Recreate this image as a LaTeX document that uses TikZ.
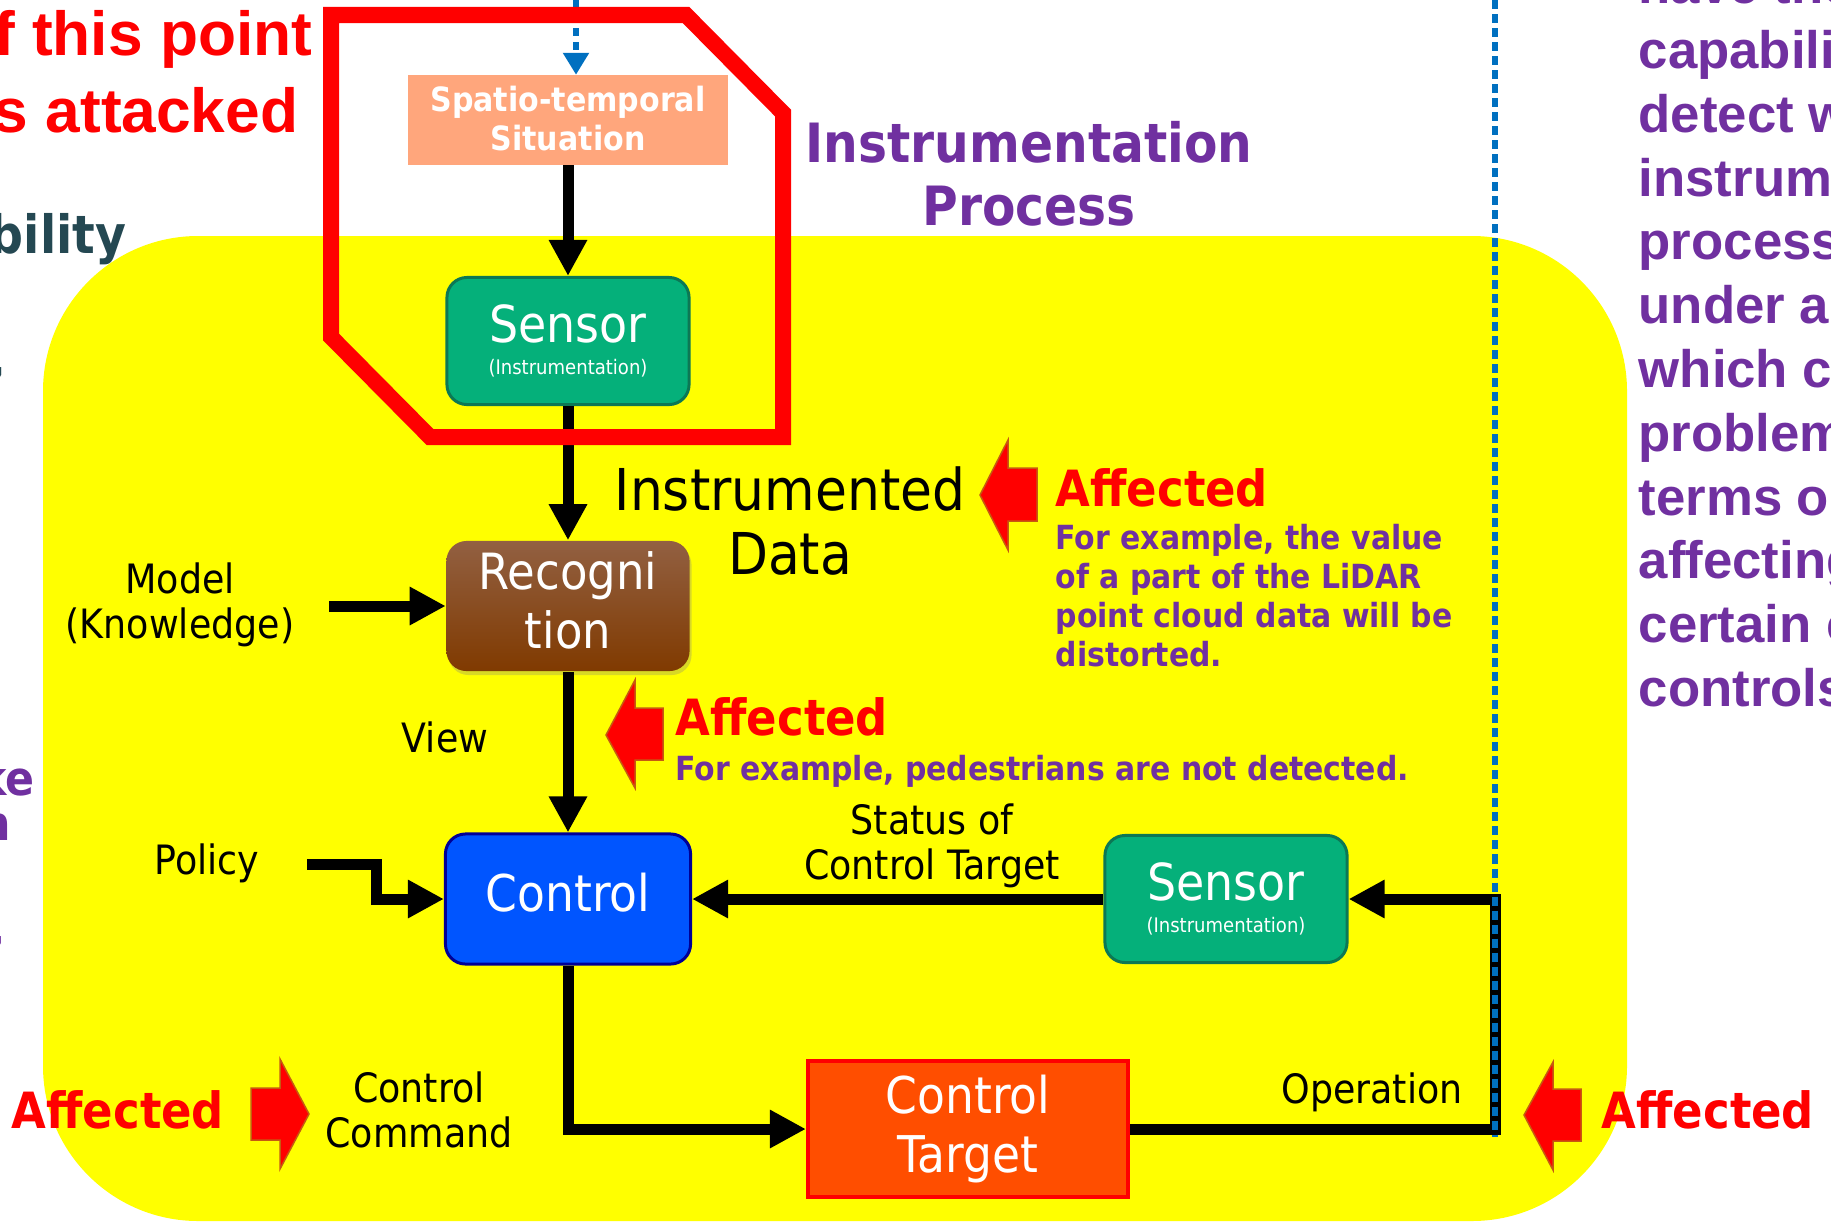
\documentclass[tikz,border=0pt]{standalone}
\usepackage{fontspec}
\setmainfont{DejaVu Sans}[FakeStretch=0.9]
\newfontfamily\arialfont{Liberation Sans}
\usetikzlibrary{arrows.meta,shadows}

\definecolor{hlyellow}{RGB}{255,255,0}
\definecolor{sensorgreen}{RGB}{5,176,122}
\definecolor{sensordark}{RGB}{12,120,85}
\definecolor{ctrlblue}{RGB}{0,85,255}
\definecolor{ctrldark}{RGB}{0,0,150}
\definecolor{targetorange}{RGB}{255,78,0}
\definecolor{situsalmon}{RGB}{255,166,124}
\definecolor{recogtop}{RGB}{146,96,66}
\definecolor{recogbot}{RGB}{128,58,0}
\definecolor{notepurple}{RGB}{112,48,160}
\definecolor{lineblue}{RGB}{0,112,192}
\definecolor{arrowrim}{RGB}{197,90,17}
\definecolor{slate}{RGB}{36,72,82}

\begin{document}
\begin{tikzpicture}[x=0.01cm,y=-0.01cm,
  conn/.style={line width=0.11cm,-{Triangle[length=0.36cm,width=0.36cm]}},
  divider/.style={lineblue,line width=0.065cm,dash pattern=on 0.09cm off 0.05cm},
  feedarrow/.style={lineblue,line width=0.06cm,dash pattern=on 0.08cm off 0.06cm,-{Triangle[length=0.22cm,width=0.25cm]}},
  sensorbox/.style={draw=sensordark,line width=0.03cm,fill=sensorgreen,rounded corners=0.2cm,
    minimum width=2.42cm,minimum height=1.27cm,align=center,text=white,inner sep=0pt,
    font=\fontsize{14.5}{9}\selectfont},
  situbox/.style={fill=situsalmon,minimum width=3.2cm,minimum height=0.89cm,align=center,
    text=white,inner sep=0pt,text depth=0.04cm,font=\bfseries\fontsize{9.5}{11.1}\selectfont},
  recogbox/.style={top color=recogtop,bottom color=recogbot,rounded corners=0.2cm,
    minimum width=2.43cm,minimum height=1.3cm,align=center,text=white,inner sep=0pt,
    text depth=0.12cm,
    drop shadow={opacity=0.3,shadow xshift=0.02cm,shadow yshift=-0.04cm},
    font=\fontsize{14.2}{16.8}\selectfont},
  ctrlbox/.style={draw=ctrldark,line width=0.03cm,fill=ctrlblue,rounded corners=0.2cm,
    minimum width=2.45cm,minimum height=1.3cm,text=white,inner sep=0pt,text depth=0.14cm,
    font=\fontsize{14.4}{16}\selectfont},
  targetbox/.style={draw=red,line width=0.04cm,fill=targetorange,
    minimum width=3.2cm,minimum height=1.36cm,align=center,text=white,inner sep=0pt,
    font=\fontsize{14.4}{16.5}\selectfont},
  lbl/.style={align=center,inner sep=0pt,font=\fontsize{11.5}{12.8}\selectfont},
  afflabel/.style={anchor=base west,inner sep=0pt,text=red,font=\bfseries\fontsize{14.2}{16}\selectfont},
  exlabel/.style={anchor=base west,align=left,inner sep=0pt,text=notepurple,
    font=\bfseries\fontsize{9.45}{11}\selectfont},
  affarrow/.style={fill=red,draw=arrowrim,line width=0.015cm,line join=miter},
  sidetext/.style={anchor=base west,inner sep=0pt,text=notepurple,
    font=\arialfont\bfseries\fontsize{15}{18}\selectfont}]

\useasboundingbox (0,0) rectangle (1831,1221);
\clip (0,0) rectangle (1831,1221);

% highlighted process area
\fill[hlyellow,rounded corners=1.55cm] (43,236) rectangle (1627,1221);

% blocks
\node[situbox] (situ) at (568,120) {Spatio-temporal\\Situation};
\node[sensorbox] (sensA) at (568,341) {Sensor\\{\fontsize{5.7}{6}\selectfont(Instrumentation)}};
\node[recogbox] (recog) at (568,606) {Recogni\\tion};
\node[ctrlbox] (ctrl) at (568,899) {Control};
\node[sensorbox] (sensB) at (1226,899) {Sensor\\{\fontsize{5.7}{6}\selectfont(Instrumentation)}};
\node[targetbox] (target) at (968,1129) {Control\\Target};

% connectors
\coordinate (feed) at (576,0);
\coordinate (mdl) at (329,606);
\coordinate (pol) at (307,864);
\coordinate (opc) at (1495,1129);
\coordinate (divTop) at (1495,0);
\coordinate (divBot) at (1495,1137);
\draw[conn] (situ.south) -- (sensA.north);
\draw[conn] (sensA.south) -- (recog.north);
\draw[conn] (recog.south) -- (ctrl.north);
\draw[conn] (mdl) -- (recog.west);
\draw[conn] (pol) -- ++(69,0) |- (ctrl.west);
\draw[conn] (ctrl.south) |- (target.west);
\draw[conn] (target.east) -- (opc) |- (sensB.east);
\draw[conn] (sensB.west) -- (ctrl.east);

% boundary lines
\draw[divider] (divTop) -- (divBot);
\draw[feedarrow] (feed) -- (feed |- situ.north);

% attacked point
\draw[red,line width=0.16cm,line join=miter] (331,15) -- (686,15) -- (783,113) -- (783,437)
  -- (430,437) -- (331,337) -- cycle;

% labels
\node[lbl,font=\fontsize{16.4}{18.2}\selectfont] (instdata) at (790,521) {Instrumented\\Data};
\node[lbl] (model) at (180,605) {Model\\(Knowledge)};
\node[lbl,anchor=base] (view) at (445,752) {View};
\node[lbl,anchor=base] (policy) at (207,874) {Policy};
\node[lbl] (status) at (932,846) {Status of\\Control Target};
\node[lbl] (cmd) at (419,1110) {Control\\Command};
\node[lbl,anchor=base] (oper) at (1372,1103) {Operation};
\node[lbl,text=notepurple,font=\bfseries\fontsize{15.4}{17.9}\selectfont] (proc) at (1029,174)
  {Instrumentation\\Process};

% affected marks
\filldraw[affarrow] (980,495) -- (1008,440) -- (1008,468) -- (1037,468) -- (1037,521)
  -- (1008,521) -- (1008,550) -- cycle;
\filldraw[affarrow] (606,735) -- (635,680) -- (635,708) -- (663,708) -- (663,760)
  -- (635,760) -- (635,788) -- cycle;
\filldraw[affarrow] (309,1114) -- (280,1059) -- (280,1088) -- (251,1088) -- (251,1140)
  -- (280,1140) -- (280,1169) -- cycle;
\filldraw[affarrow] (1524,1115) -- (1553,1062) -- (1553,1089) -- (1581,1089) -- (1581,1141)
  -- (1553,1141) -- (1553,1170) -- cycle;
\node[afflabel] (affA) at (1055,506) {Affected};
\node[exlabel] (exA) at (1055,666) {For example, the value\\of a part of the LiDAR\\point cloud data will be\\distorted.};
\node[afflabel] (affB) at (675,735) {Affected};
\node[exlabel] (exB) at (675,780) {For example, pedestrians are not detected.};
\node[afflabel] (affC) at (11,1128) {Affected};
\node[afflabel] (affD) at (1601,1128) {Affected};

% text cut off at the left edge
\node[anchor=base east,inner sep=0pt,text=red,font=\arialfont\bfseries\fontsize{17.7}{21}\selectfont] (lt1) at (313,55) {f this point};
\node[anchor=base east,inner sep=0pt,text=red,font=\arialfont\bfseries\fontsize{17.7}{21}\selectfont] (lt2) at (299,132) {s attacked};
\node[anchor=base east,inner sep=0pt,text=slate,font=\bfseries\fontsize{15}{18}\selectfont] (lt3) at (127,253) {bility};
\node[anchor=base east,inner sep=0pt,text=slate,font=\bfseries\fontsize{15}{18}\selectfont] (lt4) at (7,377) {,};
\node[anchor=base east,inner sep=0pt,text=red,font=\bfseries\fontsize{15}{18}\selectfont] (lt5) at (4,688) {)};
\node[anchor=base east,inner sep=0pt,text=notepurple,font=\bfseries\fontsize{13.5}{16}\selectfont] (lt6) at (35,795) {ke};
\node[anchor=base east,inner sep=0pt,text=notepurple,font=\bfseries\fontsize{13.5}{16}\selectfont] (lt7) at (12,840) {n};
\node[anchor=base east,inner sep=0pt,text=notepurple,font=\bfseries\fontsize{13.5}{16}\selectfont] (lt8) at (6,945) {,};

% text cut off at the right edge
\node[sidetext] (rt1) at (1638,4) {have the};
\node[sidetext] (rt2) at (1638,68) {capabili};
\node[sidetext] (rt3) at (1638,132) {detect w};
\node[sidetext] (rt4) at (1638,196) {instrum};
\node[sidetext] (rt5) at (1638,259) {process};
\node[sidetext] (rt6) at (1638,323) {under a};
\node[sidetext] (rt7) at (1638,387) {which c};
\node[sidetext] (rt8) at (1638,451) {problem};
\node[sidetext] (rt9) at (1638,515) {terms o};
\node[sidetext] (rt10) at (1638,578) {affecting};
\node[sidetext] (rt11) at (1638,642) {certain c};
\node[sidetext] (rt12) at (1638,706) {controls};
\end{tikzpicture}
\end{document}
